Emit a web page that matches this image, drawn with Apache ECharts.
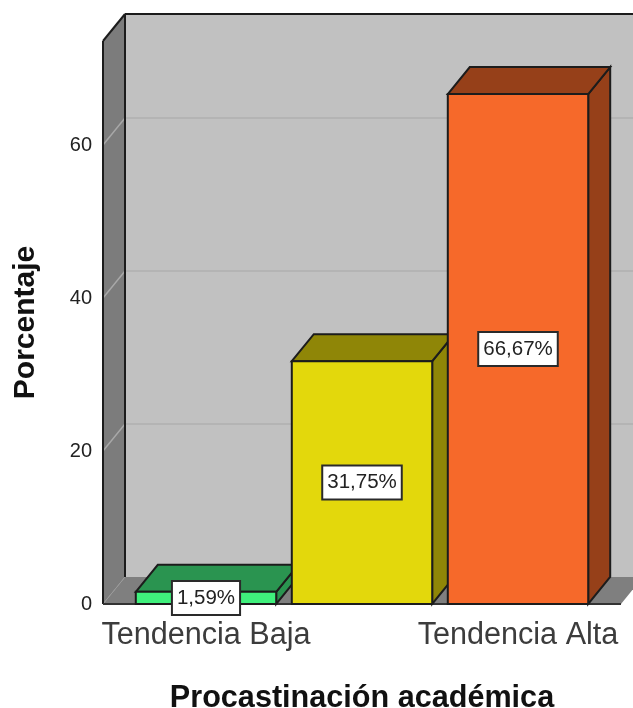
<!DOCTYPE html>
<html>
<head>
<meta charset="utf-8">
<style>
  html, body { margin: 0; padding: 0; background: #fff; }
  /* the reference is a soft, upscaled export */
  #chart { width: 633px; height: 708px; filter: blur(0.45px); }
</style>
<script src="https://cdn.jsdelivr.net/npm/echarts@6/dist/echarts.min.js"></script>
</head>
<body>
<div id="chart"></div>
<script>
// the middle category has no printed label in the picture
const categories = ['Tendencia Baja', '', 'Tendencia Alta'];
const percentages = [1.59, 31.75, 66.67];
const percentLabels = ['1,59%', '31,75%', '66,67%'];
const frontColors = ['#3ff07c', '#e3d80c', '#f6692a'];
const shadeColors = ['#2a9450', '#8f8607', '#964019'];
const gridValues = [20, 40, 60];
const axisMax = 73.6;

const DEPTH_X = 22;
const DEPTH_Y = -27;
const WALL_PAD = 25;
const OUTLINE = '#1c1c1c';
const FONT = '"Liberation Sans", Arial, sans-serif';

const chart = echarts.init(document.getElementById('chart'), null, { renderer: 'canvas' });

const poly = (points, fill, stroke, width) => ({
  type: 'polygon',
  shape: { points },
  style: { fill, stroke: stroke || null, lineWidth: width || 0 },
});
const line = (x1, y1, x2, y2, stroke, width) => ({
  type: 'line',
  shape: { x1, y1, x2, y2 },
  style: { stroke, lineWidth: width },
});

// walls and floor, placed from the value axis
const renderWalls = (params, api) => {
  const grid = params.coordSys;
  const x0 = grid.x - WALL_PAD;
  const x1 = grid.x + grid.width + WALL_PAD;
  const bottom = api.coord([0, 0])[1];
  const top = api.coord([0, axisMax])[1];
  const children = [
    poly([[x0 + DEPTH_X, top + DEPTH_Y], [x1 + DEPTH_X, top + DEPTH_Y], [x1 + DEPTH_X, bottom + DEPTH_Y], [x0 + DEPTH_X, bottom + DEPTH_Y]], '#c1c1c1'),
    poly([[x0, top], [x0 + DEPTH_X, top + DEPTH_Y], [x0 + DEPTH_X, bottom + DEPTH_Y], [x0, bottom]], '#7c7c7c'),
    poly([[x0, bottom], [x0 + DEPTH_X, bottom + DEPTH_Y], [x1 + DEPTH_X, bottom + DEPTH_Y], [x1, bottom]], '#7f7f7f'),
  ];
  gridValues.forEach((v) => {
    const y = api.coord([0, v])[1];
    children.push(line(x0, y, x0 + DEPTH_X, y + DEPTH_Y, '#a8a8a8', 1.5));
    children.push(line(x0 + DEPTH_X, y + DEPTH_Y, x1 + DEPTH_X, y + DEPTH_Y, '#b4b4b4', 2));
  });
  children.push(line(x0, bottom, x0 + DEPTH_X, bottom + DEPTH_Y, '#9a9a9a', 1));
  children.push(line(x0, top, x0, bottom, OUTLINE, 2));
  children.push(line(x0, top, x0 + DEPTH_X, top + DEPTH_Y, OUTLINE, 2));
  children.push(line(x0 + DEPTH_X, top + DEPTH_Y, x1 + DEPTH_X, top + DEPTH_Y, OUTLINE, 2));
  children.push(line(x0 + DEPTH_X, top + DEPTH_Y, x0 + DEPTH_X, bottom + DEPTH_Y, OUTLINE, 2));
  children.push(line(x0, bottom, x1, bottom, '#333333', 2));
  return { type: 'group', children };
};

const renderBar = (params, api) => {
  const i = api.value(0);
  const [cx, yTop] = api.coord([i, api.value(1)]);
  const yBase = api.coord([i, 0])[1];
  const half = api.size([1, 0])[0] * 0.45;
  const l = cx - half;
  const r = cx + half;
  const front = frontColors[i];
  const shade = shadeColors[i];
  return {
    type: 'group',
    children: [
      poly([[r, yTop], [r + DEPTH_X, yTop + DEPTH_Y], [r + DEPTH_X, yBase + DEPTH_Y], [r, yBase]], shade, OUTLINE, 2),
      poly([[l, yTop], [l + DEPTH_X, yTop + DEPTH_Y], [r + DEPTH_X, yTop + DEPTH_Y], [r, yTop]], shade, OUTLINE, 2),
      poly([[l, yTop], [r, yTop], [r, yBase], [l, yBase]], front, OUTLINE, 2),
    ],
  };
};

// white value boxes sit at half height of each bar
const renderLabel = (params, api) => {
  const i = api.value(0);
  const [x, y] = api.coord([i, api.value(1) / 2]);
  return {
    type: 'text',
    x,
    y,
    style: {
      text: percentLabels[i],
      align: 'center',
      verticalAlign: 'middle',
      font: '20.5px ' + FONT,
      fill: '#222222',
      backgroundColor: '#ffffff',
      borderColor: '#2a2a2a',
      borderWidth: 2,
      padding: [6, 4, 5, 4],
    },
  };
};

const barData = percentages.map((v, i) => [i, v]);

chart.setOption({
  animation: false,
  backgroundColor: '#ffffff',
  grid: { left: 128, top: 41, width: 468, height: 563, outerBoundsMode: 'none' },
  xAxis: {
    type: 'category',
    data: categories,
    name: 'Procastinación académica',
    nameLocation: 'middle',
    nameGap: 79,
    nameTextStyle: { fontFamily: FONT, fontSize: 30.6, fontWeight: 'bold', color: '#111111' },
    axisLine: { show: false },
    axisTick: { show: false },
    axisLabel: { interval: 0, margin: 16, fontFamily: FONT, fontSize: 30.6, color: '#3c3c3c' },
  },
  yAxis: {
    type: 'value',
    min: 0,
    max: axisMax,
    interval: 20,
    offset: WALL_PAD,
    name: 'Porcentaje',
    nameLocation: 'middle',
    nameGap: 62,
    nameTextStyle: { fontFamily: FONT, fontSize: 30, fontWeight: 'bold', color: '#111111' },
    axisLine: { show: false },
    axisTick: { show: false },
    splitLine: { show: false },
    axisLabel: { showMaxLabel: false, margin: 11, fontFamily: FONT, fontSize: 20, color: '#222222' },
  },
  series: [
    { type: 'custom', z: 1, silent: true, data: [[0, 0]], renderItem: renderWalls },
    { type: 'custom', z: 2, silent: true, data: barData, renderItem: renderBar },
    { type: 'custom', z: 3, silent: true, data: barData, renderItem: renderLabel },
  ],
});
</script>
</body>
</html>
